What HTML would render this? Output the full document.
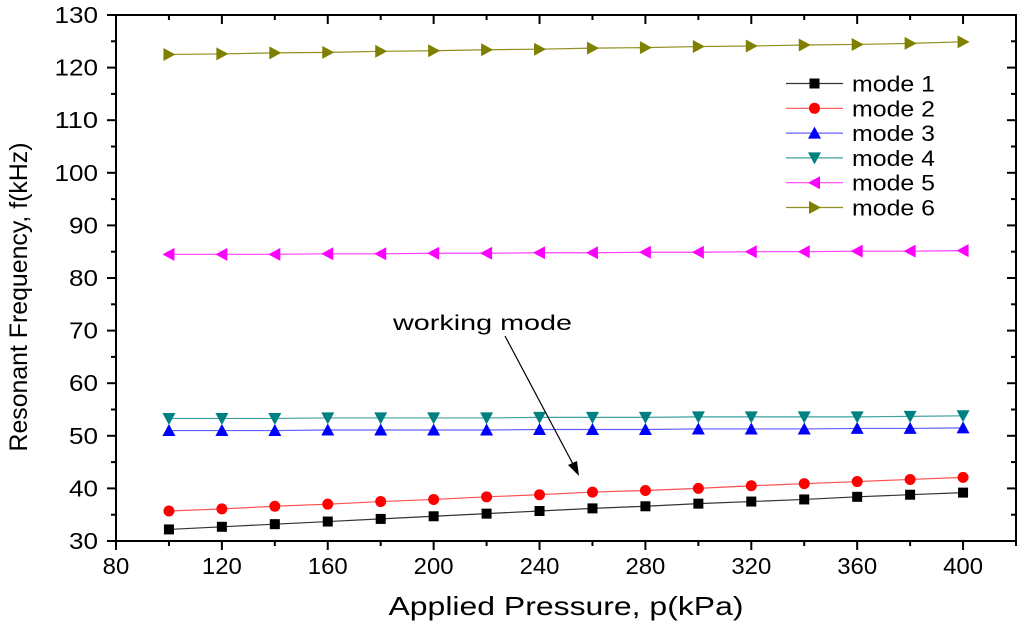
<!DOCTYPE html>
<html><head><meta charset="utf-8"><style>
html,body{margin:0;padding:0;background:#fff;}
svg{display:block;font-family:"Liberation Sans",Arial,sans-serif;}
</style></head><body>
<svg id="chart" width="1024" height="626"></svg>
<script>
const pressures=[100,120,140,160,180,200,220,240,260,280,300,320,340,360,380,400];
const mode1=[32.2,32.7,33.2,33.7,34.2,34.7,35.2,35.7,36.2,36.6,37.1,37.5,37.9,38.4,38.8,39.2];
const mode2=[35.7,36.1,36.6,37.0,37.5,37.9,38.4,38.8,39.3,39.6,40.0,40.5,40.9,41.3,41.7,42.1];
const mode3=[51.0,51.0,51.0,51.1,51.1,51.1,51.1,51.2,51.2,51.2,51.3,51.3,51.3,51.4,51.4,51.5];
const mode4=[53.3,53.3,53.3,53.4,53.4,53.4,53.4,53.5,53.5,53.5,53.6,53.6,53.6,53.6,53.7,53.8];
const mode5=[84.5,84.5,84.5,84.6,84.6,84.7,84.7,84.8,84.8,84.9,84.9,85.0,85.0,85.1,85.1,85.2];
const mode6=[122.5,122.6,122.8,122.9,123.1,123.2,123.4,123.5,123.7,123.8,124.0,124.1,124.3,124.4,124.6,124.9];
const xTicks=[80,120,160,200,240,280,320,360,400];
const yTicks=[30,40,50,60,70,80,90,100,110,120,130];
const seriesNames=["mode 1","mode 2","mode 3","mode 4","mode 5","mode 6"];

const NS="http://www.w3.org/2000/svg";
const svg=document.getElementById('chart');
const L=116,R=1016,T=15,B=541;
const xS=v=>L+(v-80)*(R-L)/340;
const yS=v=>B-(v-30)*(B-T)/100;
function el(tag,attrs,parent){const e=document.createElementNS(NS,tag);for(const k in attrs)e.setAttribute(k,attrs[k]);(parent||svg).appendChild(e);return e;}

const axes=el('g',{});


el('rect',{x:L,y:T,width:R-L,height:B-T,fill:'none',stroke:'#000','stroke-width':2},axes);
for(let v=80;v<=420;v+=20){
  const major=(v-80)%40===0;const x=xS(v);const len=major?9:5;
  el('line',{x1:x,y1:B,x2:x,y2:B+len,stroke:'#000','stroke-width':2},axes);
  el('line',{x1:x,y1:T,x2:x,y2:T+len,stroke:'#000','stroke-width':2},axes);
}
xTicks.forEach(v=>{const s=String(v);const t=el('text',{x:xS(v),y:B+33,'text-anchor':'middle','font-size':23,fill:'#000',textLength:s.length*13.3,lengthAdjust:'spacingAndGlyphs'},axes);t.textContent=s;

});
for(let v=30;v<=130;v+=5){
  const major=v%10===0;const y=yS(v);const len=major?9:5;
  el('line',{x1:L,y1:y,x2:L-len,y2:y,stroke:'#000','stroke-width':2},axes);
  el('line',{x1:R,y1:y,x2:R-len,y2:y,stroke:'#000','stroke-width':2},axes);
}
yTicks.forEach(v=>{const s=String(v);const t=el('text',{x:L-18,y:yS(v)+8,'text-anchor':'end','font-size':23,fill:'#000',textLength:s.length*14.5,lengthAdjust:'spacingAndGlyphs'},axes);t.textContent=s;

});
const xt=el('text',{x:566,y:615,'text-anchor':'middle','font-size':26,fill:'#000',textLength:355,lengthAdjust:'spacingAndGlyphs'});xt.textContent='Applied Pressure, p(kPa)';


const yt=el('text',{x:0,y:0,'text-anchor':'middle','font-size':25,fill:'#000',textLength:309,lengthAdjust:'spacingAndGlyphs',transform:'translate(27,297) rotate(-90)'});yt.textContent='Resonant Frequency, f(kHz)';



function marker(type,x,y,color,g){
  const s=5.5;
  if(type==='sq')return el('rect',{x:x-s+0.5,y:y-s+0.5,width:2*s-1,height:2*s-1,fill:color},g);
  if(type==='ci')return el('circle',{cx:x,cy:y,r:s,fill:color},g);
  let p;
  if(type==='up')p=[[x,y-s-1],[x-s-1,y+s],[x+s+1,y+s]];
  if(type==='dn')p=[[x,y+s+1],[x-s-1,y-s],[x+s+1,y-s]];
  if(type==='lt')p=[[x-s-1,y],[x+s,y-s-1],[x+s,y+s+1]];
  if(type==='rt')p=[[x+s+1,y],[x-s,y-s-1],[x-s,y+s+1]];
  return el('polygon',{points:p.map(q=>q.join(',')).join(' '),fill:color},g);
}
const all=[mode1,mode2,mode3,mode4,mode5,mode6];
const colors=['#000','#ff0000','#0000ff','#008080','#ff00ff','#808000'];
const lineColors=['#333','#ff5050','#6060ff','#40a0a0','#ff40ff','#909020'];
const marks=['sq','ci','up','dn','lt','rt'];
all.forEach((arr,i)=>{
  const g=el('g',{});
  
  
  el('polyline',{points:arr.map((v,j)=>xS(pressures[j])+','+yS(v)).join(' '),fill:'none',stroke:lineColors[i],'stroke-width':1.2},g);
  arr.forEach((v,j)=>{const m=marker(marks[i],xS(pressures[j]),yS(v),colors[i],g);
    
    });
});
const lg=el('g',{});


seriesNames.forEach((n,i)=>{
  const y=83.5+i*24.8;
  const e=el('g',{},lg);
  
  
  el('line',{x1:786,y1:y,x2:843,y2:y,stroke:lineColors[i],'stroke-width':1.2},e);
  marker(marks[i],814.5,y,colors[i],e);
  const t=el('text',{x:852,y:y+8,'font-size':22,fill:'#000',textLength:83,lengthAdjust:'spacingAndGlyphs'},e);t.textContent=n;
});
const an=el('g',{});


const at=el('text',{x:393,y:330,'font-size':21,fill:'#000',textLength:179,lengthAdjust:'spacingAndGlyphs'},an);at.textContent='working mode';
el('line',{x1:505,y1:336,x2:574,y2:466,stroke:'#000','stroke-width':1.2},an);
el('polygon',{points:'579,476 568,465 577,461',fill:'#000'},an);
</script>
</body></html>
